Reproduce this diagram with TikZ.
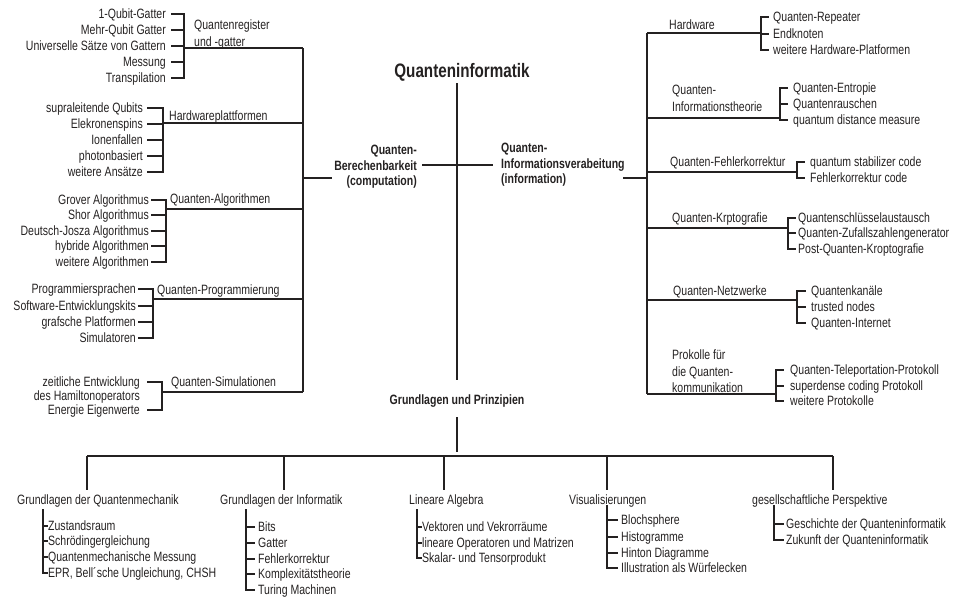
\documentclass[tikz,border=0pt]{standalone}
\usepackage{fontspec}
\setmainfont{Liberation Sans}[FakeStretch=0.78]
\usetikzlibrary{positioning,calc}
\definecolor{inkgray}{rgb}{0.14,0.13,0.13}
\tikzset{
  txt/.style={inner sep=0pt, text=inkgray, font=\fontsize{13.5}{16.5}\selectfont},
  item/.style={txt, text height=10pt, text depth=1pt},
  itemr/.style={item, anchor=east},
  iteml/.style={item, anchor=west},
  head/.style={txt, font=\fontsize{13.5}{15.5}\selectfont\bfseries},
  title/.style={txt, font=\fontsize{19.5}{22}\selectfont\bfseries},
  tree/.style={draw=inkgray, line width=2.3pt},
  brace/.style={draw=inkgray, line width=2pt, line cap=rect},
}
\begin{document}
\begin{tikzpicture}[x=1pt, y=-1pt]
\useasboundingbox (0,0) rectangle (964,598);
% Mitte
\node[title] (qi) at (462,72) {Quanteninformatik};
\coordinate (ct) at (457,83);
\coordinate (cb) at (457,380);
\draw[tree] (ct) -- (cb);
\coordinate (xl) at (422,165);
\coordinate (xr) at (493,165);
\draw[tree] (xl) -- (xr);
\node[head, align=right, anchor=north east] (comp) at (417,145) {Quanten-\\Berechenbarkeit\\(computation)};
\node[head, align=left, anchor=north west] (info) at (501,143) {Quanten-\\Informationsverabeitung\\(information)};
% linker Stamm
\coordinate (lt) at (303,48);
\coordinate (lb) at (303,392);
\draw[tree] (lt) -- (lb);
\coordinate (lc) at (303,178);
\coordinate (lc2) at (332,178);
\draw[tree] (lc) -- (lc2);
% rechter Stamm
\coordinate (rt) at (647,33);
\coordinate (rb) at (647,394);
\draw[tree] (rt) -- (rb);
\coordinate (rc) at (623,178);
\draw[tree] (rc) -- (rc -| rt);

% Quantenregister und -gatter
\node[txt, align=left, anchor=north west] (reg) at (194,20) {Quantenregister\\und -gatter};
\coordinate (regt) at (184,14);
\coordinate (regb) at (184,78);
\draw[brace] (regt) -- (regb);
\draw[tree] (regt |- lt) -- (lt);
\foreach \n/\y/\t in {reg1/14/1-Qubit-Gatter, reg2/30/Mehr-Qubit Gatter, reg3/46/Universelle Sätze von Gattern, reg4/62/Messung, reg5/78/Transpilation}{
  \node[itemr] (\n) at (166,\y) {\t};
  \draw[brace] ([xshift=6pt]\n.east) -- (\n.east -| regt);
}
% Hardwareplattformen
\node[iteml] (hwp) at (169,116) {Hardwareplattformen};
\coordinate (hwpt) at (163,108);
\coordinate (hwpb) at (163,172);
\coordinate (hwpc) at (303,123);
\draw[brace] (hwpt) -- (hwpb);
\draw[tree] (hwpt |- hwpc) -- (hwpc);
\foreach \n/\y/\t in {hw1/108/supraleitende Qubits, hw2/124/Elekronenspins, hw3/140/Ionenfallen, hw4/156/photonbasiert, hw5/172/weitere Ansätze}{
  \node[itemr] (\n) at (143,\y) {\t};
  \draw[brace] ([xshift=5pt]\n.east) -- (\n.east -| hwpt);
}
% Quanten-Algorithmen
\node[iteml] (alg) at (170,199) {Quanten-Algorithmen};
\coordinate (algt) at (166,200);
\coordinate (algb) at (166,262);
\coordinate (algc) at (303,209);
\draw[brace] (algt) -- (algb);
\draw[tree] (algt |- algc) -- (algc);
\foreach \n/\y/\t in {al1/200/Grover Algorithmus, al2/215/Shor Algorithmus, al3/231/Deutsch-Josza Algorithmus, al4/246/hybride Algorithmen, al5/262/weitere Algorithmen}{
  \node[itemr] (\n) at (149,\y) {\t};
  \draw[brace] ([xshift=3pt]\n.east) -- (\n.east -| algt);
}
% Quanten-Programmierung
\node[iteml] (prog) at (157,290) {Quanten-Programmierung};
\coordinate (progt) at (153,289);
\coordinate (progb) at (153,338);
\coordinate (progc) at (303,299);
\draw[brace] (progt) -- (progb);
\draw[tree] (progt |- progc) -- (progc);
\foreach \n/\y/\t in {pr1/289/Programmiersprachen, pr2/306/Software-Entwicklungskits, pr3/322/grafsche Platformen, pr4/338/Simulatoren}{
  \node[itemr] (\n) at (136,\y) {\t};
  \draw[brace] ([xshift=3pt]\n.east) -- (\n.east -| progt);
}
% Quanten-Simulationen
\node[iteml] (sim) at (171,382) {Quanten-Simulationen};
\coordinate (simt) at (162,382);
\coordinate (simb) at (162,410);
\draw[brace] (simt) -- (simb);
\draw[tree] (simt |- lb) -- (lb);
\node[itemr] (si2) at (140,396) {des Hamiltonoperators};
\foreach \n/\y/\t in {si1/382/zeitliche Entwicklung, si3/410/Energie Eigenwerte}{
  \node[itemr] (\n) at (140,\y) {\t};
  \draw[brace] ([xshift=8pt]\n.east) -- (\n.east -| simt);
}

% Hardware
\node[iteml] (hw) at (669,25) {Hardware};
\coordinate (hwt) at (761,17);
\coordinate (hwb) at (761,50);
\coordinate (hwc) at (761,33);
\draw[brace] (hwt) -- (hwb);
\draw[tree] (rt) -- (hwc);
\foreach \n/\y/\t in {hr1/17/Quanten-Repeater, hr2/34/Endknoten, hr3/50/weitere Hardware-Platformen}{
  \node[iteml] (\n) at (773,\y) {\t};
  \draw[brace] (\n.west -| hwt) -- ([xshift=-5pt]\n.west);
}
% Quanten-Informationstheorie
\node[txt, align=left, anchor=north west] (it) at (672,85) {Quanten-\\Informationstheorie};
\coordinate (itt) at (780,88);
\coordinate (itb) at (780,120);
\coordinate (itc) at (780,118);
\draw[brace] (itt) -- (itb);
\draw[tree] (itc -| rt) -- (itc);
\foreach \n/\y/\t in {it1/88/Quanten-Entropie, it2/104/Quantenrauschen, it3/120/quantum distance measure}{
  \node[iteml] (\n) at (793,\y) {\t};
  \draw[brace] (\n.west -| itt) -- ([xshift=-6pt]\n.west);
}
% Quanten-Fehlerkorrektur
\node[iteml] (fk) at (670,162) {Quanten-Fehlerkorrektur};
\coordinate (fkt) at (797,162);
\coordinate (fkb) at (797,178);
\coordinate (fkc) at (797,172);
\draw[brace] (fkt) -- (fkb);
\draw[tree] (fkc -| rt) -- (fkc);
\foreach \n/\y/\t in {fk1/162/quantum stabilizer code, fk2/178/Fehlerkorrektur code}{
  \node[iteml] (\n) at (810,\y) {\t};
  \draw[brace] (\n.west -| fkt) -- ([xshift=-6pt]\n.west);
}
% Quanten-Krptografie
\node[iteml] (kr) at (672,218) {Quanten-Krptografie};
\coordinate (krt) at (788,218);
\coordinate (krb) at (788,249);
\coordinate (krc) at (788,228);
\draw[brace] (krt) -- (krb);
\draw[tree] (krc -| rt) -- (krc);
\foreach \n/\y/\t in {kr1/218/Quantenschlüsselaustausch, kr2/233/Quanten-Zufallszahlengenerator, kr3/249/Post-Quanten-Kroptografie}{
  \node[iteml] (\n) at (798,\y) {\t};
  \draw[brace] (\n.west -| krt) -- ([xshift=-3pt]\n.west);
}
% Quanten-Netzwerke
\node[iteml] (nw) at (673,291) {Quanten-Netzwerke};
\coordinate (nwt) at (797,291);
\coordinate (nwb) at (797,323);
\coordinate (nwc) at (797,300);
\draw[brace] (nwt) -- (nwb);
\draw[tree] (nwc -| rt) -- (nwc);
\foreach \n/\y/\t in {nw1/291/Quantenkanäle, nw2/307/trusted nodes, nw3/323/Quanten-Internet}{
  \node[iteml] (\n) at (811,\y) {\t};
  \draw[brace] (\n.west -| nwt) -- ([xshift=-6pt]\n.west);
}
% Protokolle
\node[txt, align=left, anchor=north west] (pk) at (672,350) {Prokolle für\\die Quanten-\\kommunikation};
\coordinate (pkt) at (776,370);
\coordinate (pkb) at (776,401);
\coordinate (pkc) at (776,394);
\draw[brace] (pkt) -- (pkb);
\draw[tree] (rb) -- (pkc);
\foreach \n/\y/\t in {pk1/370/Quanten-Teleportation-Protokoll, pk2/386/superdense coding Protokoll, pk3/401/weitere Protokolle}{
  \node[iteml] (\n) at (790,\y) {\t};
  \draw[brace] (\n.west -| pkt) -- ([xshift=-7pt]\n.west);
}

% Grundlagen und Prinzipien
\node[head] (gp) at (457,401) {Grundlagen und Prinzipien};
\coordinate (gpt) at (457,417);
\coordinate (gpb) at (457,452);
\draw[tree] (gpt) -- (gpb);
\coordinate (bl) at (87,456);
\coordinate (br) at (833,456);
\draw[tree] (bl) -- (br);
\foreach \n/\x/\lx/\t in {qm/87/17/Grundlagen der Quantenmechanik, inf/284/220/Grundlagen der Informatik, la/444/409/Lineare Algebra, vis/607/569/Visualisierungen, ges/833/752/gesellschaftliche Perspektive}{
  \node[iteml] (\n) at (\lx,500) {\t};
  \coordinate (\n-d) at (\x,490);
  \draw[tree] (\n-d |- bl) -- (\n-d);
}
% Listen
\coordinate (qmt) at (43,510);
\foreach \n/\y/\t in {qm1/526/Zustandsraum, qm2/541/Schrödingergleichung, qm3/557/Quantenmechanische Messung, qm4/573/{EPR, Bell´sche Ungleichung, CHSH}}{
  \node[iteml] (\n) at (48,\y) {\t};
  \draw[brace] (\n.west -| qmt) -- ([xshift=-1pt]\n.west);
}
\draw[brace] (qmt) -- (qmt |- qm4);
\coordinate (ift) at (246,510);
\foreach \n/\y/\t in {if1/527/Bits, if2/543/Gatter, if3/559/Fehlerkorrektur, if4/574/Komplexitätstheorie, if5/590/Turing Machinen}{
  \node[iteml] (\n) at (258,\y) {\t};
  \draw[brace] (\n.west -| ift) -- ([xshift=-4pt]\n.west);
}
\draw[brace] (ift) -- (ift |- if5);
\coordinate (lat) at (417,510);
\foreach \n/\y/\t in {la1/527/Vektoren und Vekrorräume, la2/543/lineare Operatoren und Matrizen, la3/558/Skalar- und Tensorprodukt}{
  \node[iteml] (\n) at (422,\y) {\t};
  \draw[brace] (\n.west -| lat) -- ([xshift=-1pt]\n.west);
}
\draw[brace] (lat) -- (lat |- la3);
\coordinate (vit) at (607,506);
\foreach \n/\y/\t in {vi1/520/Blochsphere, vi2/537/Histogramme, vi3/553/Hinton Diagramme, vi4/568/Illustration als Würfelecken}{
  \node[iteml] (\n) at (621,\y) {\t};
  \draw[brace] (\n.west -| vit) -- ([xshift=-4pt]\n.west);
}
\draw[brace] (vit) -- (vit |- vi4);
\coordinate (get) at (774,506);
\foreach \n/\y/\t in {ge1/524/Geschichte der Quanteninformatik, ge2/540/Zukunft der Quanteninformatik}{
  \node[iteml] (\n) at (786,\y) {\t};
  \draw[brace] (\n.west -| get) -- ([xshift=-3pt]\n.west);
}
\draw[brace] (get) -- (get |- ge2);
\end{tikzpicture}
\end{document}
